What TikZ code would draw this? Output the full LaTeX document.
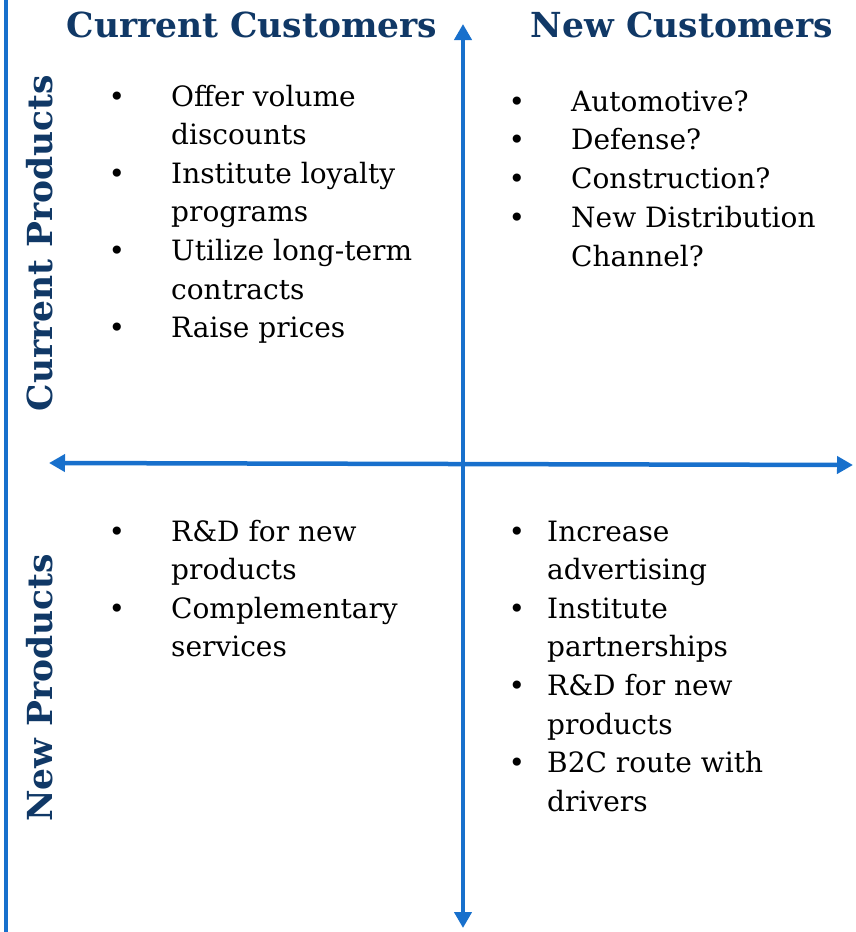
\documentclass[tikz,border=0pt]{standalone}
\usepackage{fontspec}
\setmainfont{DejaVu Serif}
\usepackage{xcolor}
\usepackage{tikz}
\usetikzlibrary{arrows.meta}

\definecolor{axisblue}{RGB}{24,112,204}
\definecolor{headnavy}{RGB}{16,56,102}

\tikzset{
  head/.style={anchor=base,inner sep=0pt,text=headnavy,font=\fontsize{34.5}{40}\selectfont\bfseries},
  side/.style={head,rotate=90},
  item/.style={anchor=base west,inner sep=0pt,font=\fontsize{28}{33}\selectfont},
  dot/.style={anchor=base,inner sep=0pt,font=\fontsize{28}{33}\selectfont},
  axis/.style={axisblue,line width=4.5pt,{Triangle[width=17pt,length=16pt]}-{Triangle[width=17pt,length=16pt]}}
}

\begin{document}
\begin{tikzpicture}[x=1pt,y=-1pt]
      \useasboundingbox (0,0) rectangle (856,932);

      % frame line on the left
      \draw[axisblue,line width=4pt] (6,0) -- (6,932);

      % the two axes
      \coordinate (top) at (463,24);
      \coordinate (bot) at (463,928);
      \coordinate (lft) at (49,463);
      \coordinate (rgt) at (853,465);
      \draw[axis] (bot) -- (top);
      \draw[axis] (lft) -- (rgt);

      % headings
      \node[head] (curcust) at (252,37) {Current Customers};
      \node[head] (newcust) at (682,37) {New Customers};
      \node[side] (curprod) at (52,243) {Current Products};
      \node[side] (newprod) at (52,688) {New Products};

      % current customers / current products
      \foreach \txt [count=\i] in {Offer volume,discounts,Institute loyalty,programs,Utilize long-term,contracts,Raise prices}
        \node[item] (qa\i) at (171,106+38.6*\i-38.6) {\txt};
      \foreach \k in {1,3,5,7}
        \node[dot] (qab\k) at (117,106+38.6*\k-38.6) {\textbullet};

      % new customers / current products
      \foreach \txt [count=\i] in {Automotive?,Defense?,Construction?,New Distribution,Channel?}
        \node[item] (qb\i) at (571,111+38.8*\i-38.8) {\txt};
      \foreach \k in {1,2,3,4}
        \node[dot] (qbb\k) at (517,111+38.8*\k-38.8) {\textbullet};

      % current customers / new products
      \foreach \txt [count=\i] in {R\&D for new,products,Complementary,services}
        \node[item] (qc\i) at (171,541+38.6*\i-38.6) {\txt};
      \foreach \k in {1,3}
        \node[dot] (qcb\k) at (117,541+38.6*\k-38.6) {\textbullet};

      % new customers / new products
      \foreach \txt [count=\i] in {Increase,advertising,Institute,partnerships,R\&D for new,products,B2C route with,drivers}
        \node[item] (qd\i) at (547,541+38.6*\i-38.6) {\txt};
      \foreach \k in {1,3,5,7}
        \node[dot] (qdb\k) at (517,541+38.6*\k-38.6) {\textbullet};
\end{tikzpicture}
\end{document}
